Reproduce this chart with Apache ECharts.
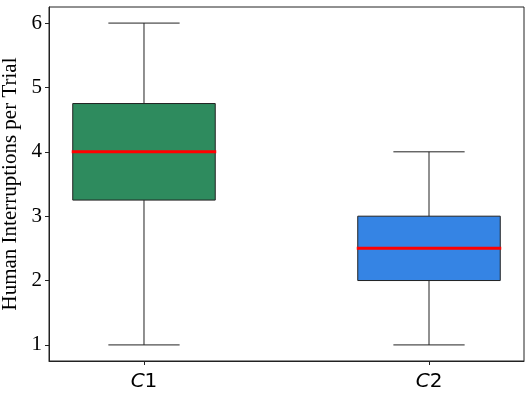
<!DOCTYPE html>
<html>
<head>
<meta charset="utf-8">
<script src="https://cdn.jsdelivr.net/npm/echarts@6/dist/echarts.min.js"></script>
<style>
    html, body { margin: 0; padding: 0; background: #fff; }
    #chart { width: 532px; height: 403px; }
</style>
</head>
<body>
<div id="chart"></div>
<script>
    // 数据
    var categories = ['1', '2'];
    var positions = [1, 2];
    var mins = [1, 1];
    var q1s = [3.25, 2];
    var medians = [4, 2.5];
    var q3s = [4.75, 3];
    var maxs = [6, 4];
    var boxColors = ['#2e8b5e', '#3584e4'];
    var yTicks = [1, 2, 3, 4, 5, 6];

    var seriesData = positions.map(function (p, i) {
        return [p, mins[i], q1s[i], medians[i], q3s[i], maxs[i]];
    });

    var boxHalf = 0.25;
    var capHalf = 0.125;

    function renderBox(params, api) {
        var x = api.value(0);
        var lo = api.value(1), q1 = api.value(2), med = api.value(3), q3 = api.value(4), hi = api.value(5);
        var tl = api.coord([x - boxHalf, q3]);
        var br = api.coord([x + boxHalf, q1]);
        var pLo = api.coord([x, lo]);
        var pHi = api.coord([x, hi]);
        var pQ1 = api.coord([x, q1]);
        var pQ3 = api.coord([x, q3]);
        var capL = api.coord([x - capHalf, lo]);
        var capR = api.coord([x + capHalf, hi]);
        var medL = api.coord([x - boxHalf, med]);
        var medR = api.coord([x + boxHalf, med]);
        var lineStyle = { stroke: '#222', lineWidth: 1, fill: null };
        return {
            type: 'group',
            children: [
                { type: 'line', shape: { x1: pLo[0], y1: pLo[1], x2: pQ1[0], y2: pQ1[1] }, style: lineStyle },
                { type: 'line', shape: { x1: pQ3[0], y1: pQ3[1], x2: pHi[0], y2: pHi[1] }, style: lineStyle },
                { type: 'line', shape: { x1: capL[0], y1: pLo[1], x2: capR[0], y2: pLo[1] }, style: lineStyle },
                { type: 'line', shape: { x1: capL[0], y1: pHi[1], x2: capR[0], y2: pHi[1] }, style: lineStyle },
                {
                    type: 'rect',
                    shape: { x: tl[0], y: tl[1], width: br[0] - tl[0], height: br[1] - tl[1] },
                    style: { fill: boxColors[params.dataIndex], stroke: '#222', lineWidth: 1 }
                },
                { type: 'line', shape: { x1: medL[0] - 1, y1: medL[1], x2: medR[0] + 1, y2: medR[1] }, style: { stroke: '#ff0000', lineWidth: 3 } }
            ]
        };
    }

    var myChart = echarts.init(document.getElementById('chart'));
    myChart.setOption({
        animation: false,
        grid: {
            left: 49, right: 8, top: 7, bottom: 42,
            outerBoundsMode: 'none',
            containLabel: false,
            show: true, borderColor: '#222', borderWidth: 1, backgroundColor: 'transparent'
        },
        xAxis: {
            type: 'value',
            min: 0.6667,
            max: 2.3333,
            splitLine: { show: false },
            axisLine: { show: true, lineStyle: { color: '#222' } },
            axisTick: { show: true, customValues: positions, length: 4, lineStyle: { color: '#222' } },
            axisLabel: {
                customValues: positions,
                margin: 11,
                formatter: function (v) {
                    return '{i|C}{n|' + categories[positions.indexOf(Math.round(v))] + '}';
                },
                rich: {
                    i: { fontFamily: 'DejaVu Sans', fontStyle: 'italic', fontSize: 20, color: '#000' },
                    n: { fontFamily: 'DejaVu Sans', fontSize: 20, color: '#000' }
                }
            }
        },
        yAxis: {
            type: 'value',
            min: 0.75,
            max: 6.25,
            name: 'Human Interruptions per Trial',
            nameLocation: 'middle',
            nameGap: 14,
            nameTextStyle: { fontFamily: 'Liberation Serif', fontSize: 21, color: '#000' },
            splitLine: { show: false },
            axisLine: { show: true, lineStyle: { color: '#222' } },
            axisTick: { show: true, customValues: yTicks, length: 4, lineStyle: { color: '#222' } },
            axisLabel: {
                customValues: yTicks,
                margin: 7,
                fontFamily: 'Liberation Serif',
                fontSize: 21,
                color: '#000'
            }
        },
        series: [{
            type: 'custom',
            renderItem: renderBox,
            encode: { x: 0, y: [1, 2, 3, 4, 5] },
            data: seriesData
        }]
    });
</script>
</body>
</html>
